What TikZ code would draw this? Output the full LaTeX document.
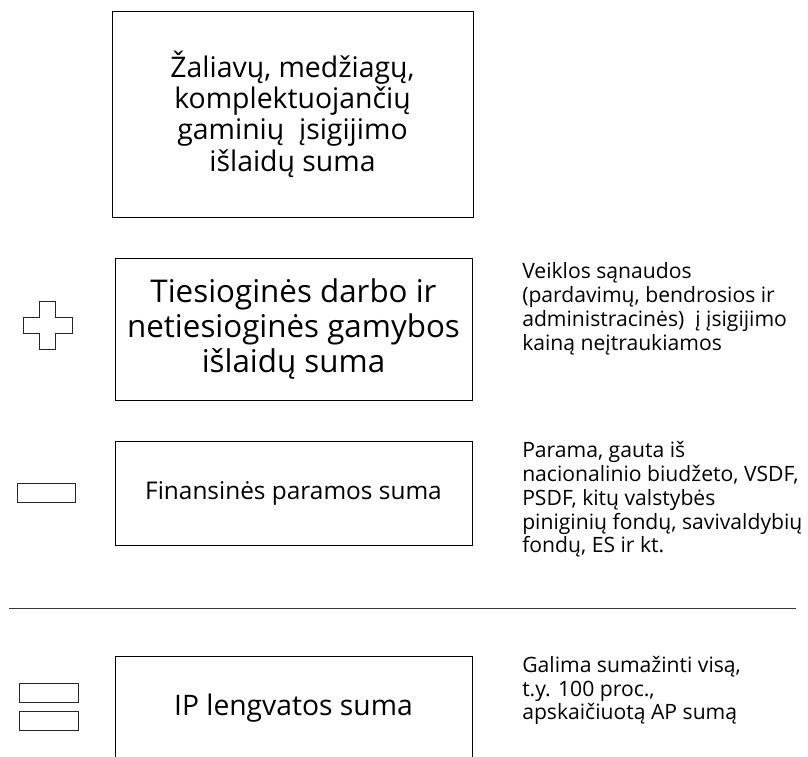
\documentclass[tikz,border=0pt]{standalone}
\usepackage{fontspec}
\setmainfont{Open Sans}
\usepackage{tikz}

\begin{document}
\begin{tikzpicture}[x=0.75pt,y=-0.75pt,
   sumbox/.style={draw=black,line width=0.75pt,align=center,inner sep=0pt},
   note/.style={anchor=north west,align=left,inner sep=0pt,
      font={\fontsize{15.85}{17.8}\selectfont}},
   sign/.style={draw=black!85,line width=0.75pt}]
   \useasboundingbox (0,0) rectangle (808,757);
   % sumos
   \node[sumbox,minimum width=270.75pt,minimum height=154.5pt,
      font={\fontsize{21.3}{23.5}\selectfont}] (zaliavos) at (292.5,114)
      {Žaliavų, medžiagų,\\komplektuojančių\\gaminių \ įsigijimo\\išlaidų suma};
   \node[sumbox,minimum width=267.75pt,minimum height=106.5pt,
      font={\fontsize{23.5}{26.25}\selectfont}] (darbas) at (293.5,329)
      {Tiesioginės darbo ir\\netiesioginės gamybos\\išlaidų suma};
   \node[sumbox,minimum width=267.75pt,minimum height=78pt,
      font={\fontsize{18.3}{20}\selectfont}] (parama) at (293.5,493)
      {Finansinės paramos suma};
   \node[inner sep=0pt,font={\fontsize{21.2}{23}\selectfont}] (ip) at (293.5,708)
      {IP lengvatos suma};
   \draw[line width=0.75pt] (115,757) |- (472,656) -- (472,757);
   % paaiškinimai
   \node[note] (sanaudos) at (522,262.5)
      {Veiklos sąnaudos\\(pardavimų, bendrosios ir\\administracinės) \ į įsigijimo\\kainą neįtraukiamos};
   \node[note] (fondai) at (522,441.5)
      {Parama, gauta iš\\nacionalinio biudžeto, VSDF,\\PSDF, kitų valstybės\\piniginių fondų, savivaldybių\\fondų, ES ir kt.};
   \node[note] (galima) at (522,656)
      {Galima sumažinti visą,\\t.y. 100 proc.,\\apskaičiuotą AP sumą};
   % ženklai
   \draw[sign] (39,301) -- (55,301) -- (55,317) -- (72,317) -- (72,333) -- (55,333)
      -- (55,349) -- (39,349) -- (39,333) -- (23,333) -- (23,317) -- (39,317) -- cycle;
   \draw[sign] (17,483) rectangle (75,502);
   \draw[sign] (19,683) rectangle (78,702);
   \draw[sign] (19,711) rectangle (78,730);
   \draw[line width=0.75pt,black!80] (9,608) -- (796,608);
\end{tikzpicture}
\end{document}
